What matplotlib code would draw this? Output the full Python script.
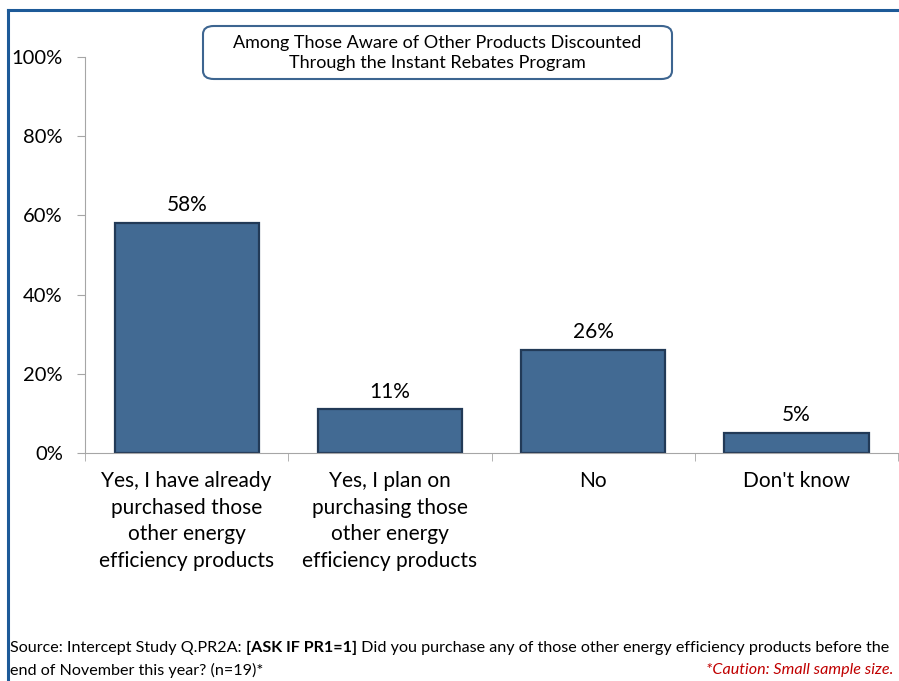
import matplotlib.pyplot as plt
from matplotlib.patches import FancyBboxPatch
from matplotlib.lines import Line2D

# chart data
categories = ['Yes, I have already\npurchased those\nother energy\nefficiency products',
              'Yes, I plan on\npurchasing those\nother energy\nefficiency products',
              'No',
              "Don't know"]
values = [58, 11, 26, 5]
y_ticks = [0, 20, 40, 60, 80, 100]

title = 'Among Those Aware of Other Products Discounted\nThrough the Instant Rebates Program'

plt.rcParams['font.family'] = ['Lato', 'DejaVu Sans']

fig = plt.figure(figsize=(8.99, 6.81), dpi=100)
ax = fig.add_axes([0.0946, 0.3348, 0.9044, 0.5815])

x = range(len(categories))
ax.bar(x, values, width=0.71, color='#426a93', edgecolor='#223a57', linewidth=1.6)

for i, v in enumerate(values):
    ax.text(i, v + 2.0, f'{v}%', ha='center', va='bottom', fontsize=15, color='black')

ax.set_xlim(-0.5, len(categories) - 0.5)
ax.set_ylim(0, 100)
ax.set_yticks(y_ticks)
ax.set_yticklabels([f'{t}%' for t in y_ticks], fontsize=14.5)
ax.tick_params(axis='y', length=6, color='#a6a6a6', pad=10)

# category labels, ticks sit between categories
ax.set_xticks(list(x))
ax.set_xticklabels(categories, fontsize=15, linespacing=1.42)
ax.tick_params(axis='x', length=0, pad=13)
ax.set_xticks([i + 0.5 for i in range(-1, len(categories))], minor=True)
ax.tick_params(axis='x', which='minor', length=6, color='#a6a6a6')

for s in ['top', 'right']:
    ax.spines[s].set_visible(False)
for s in ['left', 'bottom']:
    ax.spines[s].set_color('#a6a6a6')

# rounded title box
box = FancyBboxPatch((203 / 899, 1 - 79 / 681), (672 - 203) / 899, 53 / 681,
                     boxstyle='round,pad=0,rounding_size=0.012',
                     transform=fig.transFigure, facecolor='white',
                     edgecolor='#3d6590', linewidth=1.5)
fig.patches.append(box)
fig.text(437 / 899, 1 - 53 / 681, title, ha='center', va='center', fontsize=13,
         linespacing=1.32)

# outer frame (left and top edges)
fig.add_artist(Line2D([7.5 / 899, 7.5 / 899], [0, 1 - 10 / 681],
                      transform=fig.transFigure, color='#1d5a98', linewidth=2.2))
fig.add_artist(Line2D([7.5 / 899, 1], [1 - 10 / 681, 1 - 10 / 681],
                      transform=fig.transFigure, color='#1d5a98', linewidth=2.2))

# footer
fs = 11.6
t1 = fig.text(10 / 899, 1 - 648 / 681, 'Source: Intercept Study Q.PR2A: ',
              fontsize=fs, va='center', ha='left')
t2 = ax.annotate('[ASK IF PR1=1]', xy=(1, 0), xycoords=t1, va='bottom', ha='left',
                 fontsize=fs, fontweight='bold')
ax.annotate(' Did you purchase any of those other energy efficiency products before the',
            xy=(1, 0), xycoords=t2, va='bottom', ha='left', fontsize=fs)
fig.text(10 / 899, 1 - 670 / 681, 'end of November this year? (n=19)*',
         fontsize=fs, va='center', ha='left')
fig.text(893 / 899, 1 - 670 / 681, '*Caution: Small sample size.',
         fontsize=fs, va='center', ha='right', color='#c00000', style='italic')

fig.savefig('out.png', dpi=100)
